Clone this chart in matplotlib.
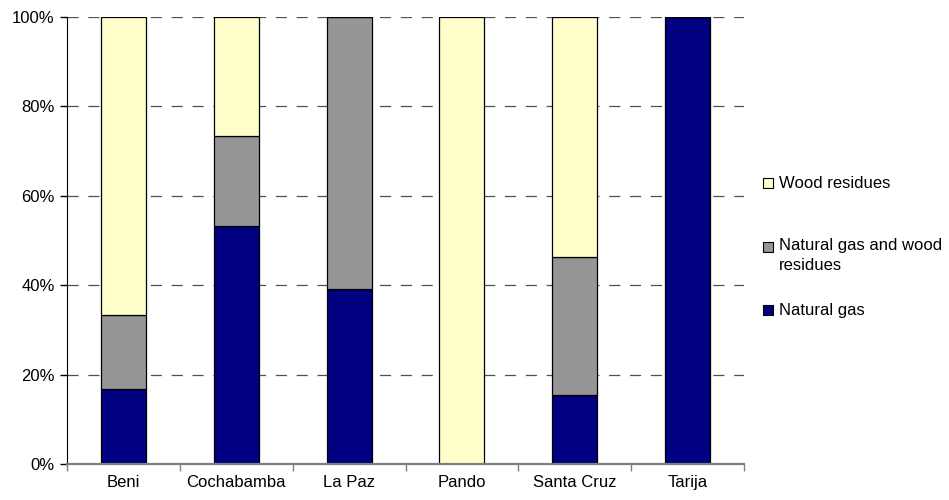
import numpy as np
import matplotlib
matplotlib.use('Agg')
import matplotlib.pyplot as plt
from matplotlib.patches import Rectangle
from matplotlib.ticker import FixedLocator, PercentFormatter

# === Share of each fuel type per department (%) ===
departments = ['Beni', 'Cochabamba', 'La Paz', 'Pando', 'Santa Cruz', 'Tarija']
natural_gas = [16.7, 53.3, 39.1, 0.0, 15.4, 100.0]
mixed = [16.7, 20.0, 60.9, 0.0, 30.8, 0.0]
wood = [66.6, 26.7, 0.0, 100.0, 53.8, 0.0]

series = [natural_gas, mixed, wood]
labels = ['Natural gas', 'Natural gas and wood\nresidues', 'Wood residues']
colors = ['#000080', '#969696', '#FFFFCC']

plt.rcParams['font.family'] = ['Liberation Sans', 'DejaVu Sans']
plt.rcParams['lines.scale_dashes'] = False

fig = plt.figure(figsize=(9.49, 5.0), dpi=100)
ax = fig.add_axes([67 / 949, 36 / 500, (744 - 67) / 949, (464 - 17) / 500])

x = np.arange(len(departments))
bottom = np.zeros(len(departments))
for vals, col in zip(series, colors):
    vals = np.array(vals)
    ax.bar(x, vals, width=0.4, bottom=bottom, color=col,
           edgecolor='black', linewidth=0.9, zorder=3)
    bottom += vals

# === Axes formatting ===
ax.set_xlim(-0.5, len(departments) - 0.5)
ax.set_ylim(0, 100)
ax.set_yticks(np.arange(0, 101, 20))
ax.yaxis.set_major_formatter(PercentFormatter(decimals=0))
ax.set_xticks(x)
ax.set_xticklabels(departments)
ax.xaxis.set_minor_locator(FixedLocator(np.arange(-0.5, len(departments), 1.0)))
ax.tick_params(axis='x', which='major', length=0, pad=8, labelsize=12)
ax.tick_params(axis='x', which='minor', length=5, width=1, color='#808080', direction='out')
ax.tick_params(axis='y', length=5, width=1, direction='out', pad=4, labelsize=12)

ax.grid(axis='y', color='#505050', linestyle=(0, (8, 7)), linewidth=0.9, zorder=0)
ax.spines['top'].set_visible(False)
ax.spines['right'].set_visible(False)
ax.spines['left'].set_color('black')
ax.spines['bottom'].set_color('#808080')
ax.spines['bottom'].set_linewidth(1.6)
ax.spines['bottom'].set_zorder(4)

# === Legend (top entry = top of stack), square aligned with first text line ===
leg_y = [310, 247, 183]
for lab, col, yy in zip(labels, colors, leg_y):
    fig.patches.append(Rectangle((763 / 949, (500 - yy - 5) / 500), 10 / 949, 10 / 500,
                                 transform=fig.transFigure, facecolor=col,
                                 edgecolor='black', linewidth=0.8))
    if '\n' in lab:
        fig.text(779 / 949, (500 - yy + 9) / 500, lab, fontsize=12, va='top',
                 linespacing=1.45)
    else:
        fig.text(779 / 949, (500 - yy) / 500, lab, fontsize=12, va='center')

fig.savefig('out.png', dpi=100)
